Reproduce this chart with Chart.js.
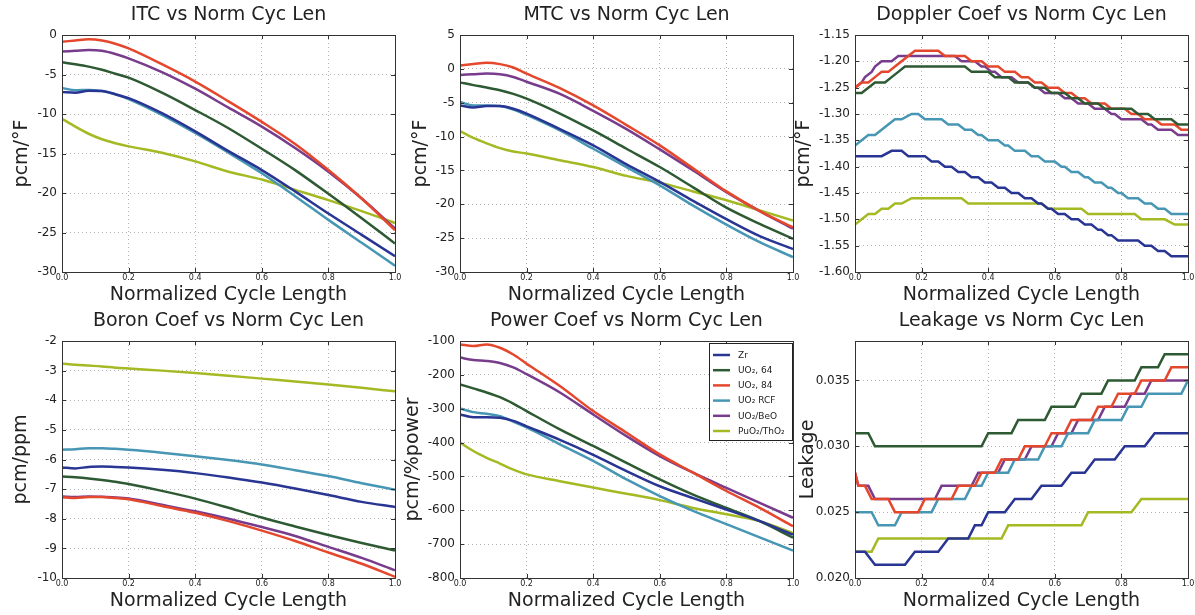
<!DOCTYPE html>
<html>
<head>
<meta charset="utf-8">
<script src="https://cdn.jsdelivr.net/npm/chart.js@4.4.0/dist/chart.umd.min.js"></script>
<style>
  body { margin: 0; background: #fff; width: 1195px; height: 615px; overflow: hidden; position: relative; }
  .panel { position: absolute; }
</style>
</head>
<body>
<div class="panel" style="left:0px;top:1px"><canvas id="itc" width="405" height="311"></canvas></div>
<div class="panel" style="left:398px;top:1px"><canvas id="mtc" width="405" height="311"></canvas></div>
<div class="panel" style="left:793px;top:1px"><canvas id="doppler" width="405" height="311"></canvas></div>
<div class="panel" style="left:0px;top:307px"><canvas id="boron" width="405" height="311"></canvas></div>
<div class="panel" style="left:398px;top:307px"><canvas id="power" width="405" height="311"></canvas></div>
<div class="panel" style="left:793px;top:307px"><canvas id="leakage" width="405" height="311"></canvas></div>
<script>
// series, in legend order
const seriesNames = ['Zr', 'UO₂, 64', 'UO₂, 84', 'UO₂ RCF', 'UO₂/BeO', 'PuO₂/ThO₂'];
const seriesColors = ['#283593', '#2d5a32', '#e5472d', '#4696b4', '#783c8c', '#a5b923'];

// normalized cycle length samples for the smooth curves
const cycleX = [0, 0.04, 0.08, 0.12, 0.16, 0.2, 0.3, 0.4, 0.5, 0.6, 0.7, 0.8, 0.9, 1.0];
const xTicks = [0, 0.2, 0.4, 0.6, 0.8, 1.0];

// ITC, pcm/F  (rows follow seriesNames)
const itcValues = [
  [-7.2, -7.3, -7.05, -7.1, -7.5, -8.0, -9.9, -12.2, -14.7, -17.1, -19.8, -22.6, -25.3, -28.0],
  [-3.45, -3.7, -4.0, -4.4, -4.9, -5.4, -7.3, -9.5, -11.8, -14.4, -17.1, -20.1, -23.2, -26.4],
  [-0.85, -0.7, -0.55, -0.7, -1.1, -1.7, -3.7, -5.9, -8.4, -11.0, -13.8, -17.1, -20.7, -24.7],
  [-6.7, -7.0, -6.95, -7.1, -7.5, -8.1, -10.1, -12.4, -14.9, -17.5, -20.4, -23.4, -26.3, -29.2],
  [-2.1, -2.0, -1.9, -2.0, -2.4, -2.95, -4.7, -6.8, -9.2, -11.6, -14.3, -17.3, -20.7, -24.5],
  [-10.6, -11.6, -12.5, -13.2, -13.7, -14.1, -14.9, -16.0, -17.3, -18.3, -19.6, -20.9, -22.3, -23.8]
];
const itcTicks = [-30, -25, -20, -15, -10, -5, 0];

// MTC, pcm/F
const mtcValues = [
  [-5.4, -5.7, -5.5, -5.5, -5.9, -6.6, -8.9, -11.3, -14.1, -16.7, -19.5, -22.2, -24.7, -26.6],
  [-2.0, -2.4, -2.75, -3.15, -3.7, -4.4, -6.6, -9.1, -11.8, -14.5, -17.5, -20.5, -22.9, -25.1],
  [0.5, 0.7, 0.9, 0.7, 0.2, -0.7, -2.85, -5.4, -8.3, -11.3, -14.7, -18.1, -21.0, -23.4],
  [-4.9, -5.4, -5.4, -5.5, -6.0, -6.8, -9.1, -11.8, -14.5, -17.2, -20.2, -23.0, -25.6, -27.8],
  [-0.9, -0.8, -0.7, -0.8, -1.2, -1.9, -3.7, -6.2, -8.9, -11.9, -15.0, -18.2, -21.0, -23.6],
  [-9.2, -10.2, -11.0, -11.7, -12.2, -12.5, -13.5, -14.5, -15.8, -16.8, -18.1, -19.4, -20.9, -22.4]
];
const mtcTicks = [-30, -25, -20, -15, -10, -5, 0, 5];

// Boron coefficient, pcm/ppm
const boronValues = [
  [-6.27, -6.3, -6.25, -6.24, -6.25, -6.27, -6.35, -6.46, -6.61, -6.78, -6.98, -7.2, -7.43, -7.6],
  [-6.57, -6.6, -6.64, -6.69, -6.75, -6.83, -7.06, -7.32, -7.63, -7.96, -8.26, -8.55, -8.82, -9.07],
  [-7.27, -7.3, -7.27, -7.27, -7.3, -7.34, -7.57, -7.8, -8.08, -8.4, -8.75, -9.14, -9.52, -9.96],
  [-5.67, -5.65, -5.62, -5.62, -5.64, -5.67, -5.77, -5.89, -6.02, -6.17, -6.36, -6.56, -6.8, -7.02],
  [-7.25, -7.27, -7.25, -7.26, -7.28, -7.32, -7.53, -7.75, -8.0, -8.28, -8.58, -8.95, -9.32, -9.74],
  [-2.76, -2.8, -2.83, -2.86, -2.9, -2.93, -3.0, -3.08, -3.17, -3.27, -3.37, -3.47, -3.58, -3.7]
];
const boronTicks = [-10, -9, -8, -7, -6, -5, -4, -3, -2];

// Power coefficient, pcm/%power
const powerValues = [
  [-317, -325, -325, -327, -336, -352, -392, -436, -484, -529, -564, -598, -632, -672],
  [-228, -240, -252, -266, -285, -307, -361, -410, -460, -509, -554, -593, -632, -681],
  [-110, -115, -110, -120, -140, -167, -233, -307, -371, -435, -489, -543, -593, -647],
  [-299, -310, -315, -322, -338, -355, -405, -454, -509, -558, -602, -641, -680, -719],
  [-149, -156, -159, -165, -178, -198, -252, -317, -381, -440, -489, -534, -578, -622],
  [-400, -425, -445, -462, -480, -494, -514, -533, -551, -570, -593, -612, -632, -667]
];
const powerTicks = [-800, -700, -600, -500, -400, -300, -200, -100];

// Doppler coefficient, pcm/F: [cycle length, value] corners of the rounded curves
const dopplerPoints = [
  [[0,-1.38],[0.08,-1.38],[0.11,-1.37],[0.14,-1.37],[0.16,-1.38],[0.21,-1.38],[0.23,-1.39],[0.25,-1.39],[0.27,-1.40],[0.29,-1.40],[0.31,-1.41],[0.33,-1.41],[0.35,-1.42],[0.37,-1.42],[0.39,-1.43],[0.41,-1.43],[0.43,-1.44],[0.45,-1.44],[0.47,-1.45],[0.49,-1.45],[0.51,-1.46],[0.53,-1.46],[0.55,-1.47],[0.56,-1.47],[0.58,-1.48],[0.59,-1.48],[0.61,-1.49],[0.63,-1.49],[0.65,-1.50],[0.67,-1.50],[0.69,-1.51],[0.71,-1.51],[0.73,-1.52],[0.74,-1.52],[0.76,-1.53],[0.77,-1.53],[0.79,-1.54],[0.85,-1.54],[0.87,-1.55],[0.89,-1.55],[0.91,-1.56],[0.93,-1.56],[0.95,-1.57],[1.0,-1.57]],
  [[0,-1.26],[0.02,-1.26],[0.04,-1.25],[0.06,-1.24],[0.09,-1.24],[0.11,-1.23],[0.13,-1.22],[0.15,-1.21],[0.33,-1.21],[0.35,-1.22],[0.40,-1.22],[0.42,-1.23],[0.46,-1.23],[0.48,-1.24],[0.52,-1.24],[0.54,-1.25],[0.57,-1.25],[0.59,-1.26],[0.63,-1.26],[0.65,-1.27],[0.67,-1.27],[0.69,-1.28],[0.73,-1.28],[0.75,-1.29],[0.83,-1.29],[0.85,-1.30],[0.88,-1.30],[0.90,-1.31],[0.95,-1.31],[0.97,-1.32],[1.0,-1.32]],
  [[0,-1.25],[0.02,-1.24],[0.04,-1.24],[0.06,-1.23],[0.08,-1.22],[0.10,-1.22],[0.12,-1.21],[0.14,-1.20],[0.16,-1.19],[0.18,-1.18],[0.25,-1.18],[0.27,-1.19],[0.33,-1.19],[0.35,-1.20],[0.38,-1.20],[0.40,-1.21],[0.43,-1.21],[0.45,-1.22],[0.48,-1.22],[0.50,-1.23],[0.52,-1.23],[0.54,-1.24],[0.56,-1.24],[0.58,-1.25],[0.61,-1.25],[0.63,-1.26],[0.65,-1.26],[0.67,-1.27],[0.69,-1.27],[0.71,-1.28],[0.75,-1.28],[0.77,-1.29],[0.81,-1.29],[0.83,-1.30],[0.85,-1.30],[0.87,-1.31],[0.90,-1.31],[0.92,-1.32],[0.96,-1.32],[0.98,-1.33],[1.0,-1.33]],
  [[0,-1.36],[0.02,-1.35],[0.04,-1.34],[0.06,-1.34],[0.08,-1.33],[0.10,-1.32],[0.12,-1.31],[0.14,-1.31],[0.17,-1.30],[0.19,-1.30],[0.21,-1.31],[0.26,-1.31],[0.28,-1.32],[0.31,-1.32],[0.33,-1.33],[0.35,-1.33],[0.37,-1.34],[0.38,-1.34],[0.40,-1.35],[0.43,-1.35],[0.45,-1.36],[0.46,-1.36],[0.48,-1.37],[0.51,-1.37],[0.53,-1.38],[0.55,-1.38],[0.57,-1.39],[0.60,-1.39],[0.62,-1.40],[0.63,-1.40],[0.65,-1.41],[0.67,-1.41],[0.69,-1.42],[0.70,-1.42],[0.72,-1.43],[0.74,-1.43],[0.76,-1.44],[0.77,-1.44],[0.79,-1.45],[0.80,-1.45],[0.82,-1.46],[0.85,-1.46],[0.87,-1.47],[0.89,-1.47],[0.91,-1.48],[0.93,-1.48],[0.95,-1.49],[1.0,-1.49]],
  [[0,-1.25],[0.02,-1.24],[0.03,-1.23],[0.05,-1.22],[0.06,-1.21],[0.08,-1.20],[0.11,-1.20],[0.13,-1.19],[0.30,-1.19],[0.32,-1.20],[0.36,-1.20],[0.38,-1.21],[0.39,-1.21],[0.41,-1.22],[0.42,-1.22],[0.44,-1.23],[0.47,-1.23],[0.49,-1.24],[0.52,-1.24],[0.54,-1.25],[0.55,-1.25],[0.57,-1.26],[0.61,-1.26],[0.63,-1.27],[0.65,-1.27],[0.67,-1.28],[0.70,-1.28],[0.72,-1.29],[0.75,-1.29],[0.77,-1.30],[0.78,-1.30],[0.80,-1.31],[0.86,-1.31],[0.88,-1.32],[0.89,-1.32],[0.91,-1.33],[0.95,-1.33],[0.97,-1.34],[1.0,-1.34]],
  [[0,-1.51],[0.02,-1.50],[0.04,-1.49],[0.06,-1.49],[0.08,-1.48],[0.10,-1.48],[0.12,-1.47],[0.14,-1.47],[0.17,-1.46],[0.32,-1.46],[0.34,-1.47],[0.56,-1.47],[0.58,-1.48],[0.68,-1.48],[0.70,-1.49],[0.84,-1.49],[0.86,-1.50],[0.93,-1.50],[0.96,-1.51],[1.0,-1.51]]
];
const dopplerTicks = [-1.60, -1.55, -1.50, -1.45, -1.40, -1.35, -1.30, -1.25, -1.20, -1.15];

// Leakage: [cycle length, value] corners
const leakagePoints = [
  [[0,0.022],[0.03,0.022],[0.06,0.021],[0.15,0.021],[0.18,0.022],[0.25,0.022],[0.28,0.023],[0.34,0.023],[0.36,0.024],[0.38,0.024],[0.40,0.025],[0.45,0.025],[0.48,0.026],[0.53,0.026],[0.56,0.027],[0.62,0.027],[0.65,0.028],[0.69,0.028],[0.72,0.029],[0.78,0.029],[0.81,0.030],[0.87,0.030],[0.90,0.031],[1.0,0.031]],
  [[0,0.031],[0.04,0.031],[0.06,0.030],[0.38,0.030],[0.40,0.031],[0.47,0.031],[0.49,0.032],[0.57,0.032],[0.59,0.033],[0.66,0.033],[0.68,0.034],[0.74,0.034],[0.76,0.035],[0.84,0.035],[0.86,0.036],[0.91,0.036],[0.93,0.037],[1.0,0.037]],
  [[0,0.028],[0.01,0.027],[0.03,0.027],[0.05,0.026],[0.10,0.026],[0.12,0.025],[0.19,0.025],[0.21,0.026],[0.29,0.026],[0.31,0.027],[0.36,0.027],[0.38,0.028],[0.42,0.028],[0.44,0.029],[0.49,0.029],[0.51,0.030],[0.57,0.030],[0.59,0.031],[0.63,0.031],[0.65,0.032],[0.71,0.032],[0.73,0.033],[0.77,0.033],[0.79,0.034],[0.84,0.034],[0.86,0.035],[0.93,0.035],[0.95,0.036],[1.0,0.036]],
  [[0,0.025],[0.05,0.025],[0.07,0.024],[0.12,0.024],[0.14,0.025],[0.23,0.025],[0.25,0.026],[0.33,0.026],[0.35,0.027],[0.38,0.027],[0.40,0.028],[0.46,0.028],[0.48,0.029],[0.55,0.029],[0.57,0.030],[0.62,0.030],[0.64,0.031],[0.70,0.031],[0.72,0.032],[0.80,0.032],[0.82,0.033],[0.86,0.033],[0.88,0.034],[0.98,0.034],[1.0,0.035]],
  [[0,0.028],[0.01,0.027],[0.04,0.027],[0.06,0.026],[0.24,0.026],[0.26,0.027],[0.35,0.027],[0.37,0.028],[0.43,0.028],[0.45,0.029],[0.51,0.029],[0.53,0.030],[0.59,0.030],[0.61,0.031],[0.65,0.031],[0.67,0.032],[0.73,0.032],[0.75,0.033],[0.81,0.033],[0.83,0.034],[0.87,0.034],[0.89,0.035],[1.0,0.035]],
  [[0,0.022],[0.05,0.022],[0.07,0.023],[0.44,0.023],[0.46,0.024],[0.68,0.024],[0.70,0.025],[0.83,0.025],[0.86,0.026],[1.0,0.026]]
];
const leakageTicks = [0.020, 0.025, 0.030, 0.035];

const FONT = 'DejaVu Sans';
const TEXT = '#222';

// axes frame + inward tick marks, like the matplotlib look
const framePlugin = {
  id: 'frame',
  afterDatasetsDraw(chart) {
    const { ctx, chartArea: a, scales } = chart;
    ctx.save();
    ctx.strokeStyle = '#333';
    ctx.lineWidth = 1;
    ctx.beginPath();
    scales.y.ticks.forEach(t => {
      const y = Math.round(scales.y.getPixelForValue(t.value)) + 0.5;
      ctx.moveTo(a.left, y); ctx.lineTo(a.left + 4, y);
      ctx.moveTo(a.right, y); ctx.lineTo(a.right - 4, y);
    });
    scales.x.ticks.forEach(t => {
      const x = Math.round(scales.x.getPixelForValue(t.value)) + 0.5;
      ctx.moveTo(x, a.bottom); ctx.lineTo(x, a.bottom - 4);
      ctx.moveTo(x, a.top); ctx.lineTo(x, a.top + 4);
    });
    ctx.stroke();
    ctx.strokeRect(Math.round(a.left) + 0.5, Math.round(a.top) + 0.5,
      Math.round(a.right - a.left), Math.round(a.bottom - a.top));
    ctx.restore();
  }
};

// boxed legend in the upper right corner of the plot
const boxLegend = {
  id: 'boxLegend',
  afterDraw(chart) {
    const { ctx, chartArea: a } = chart;
    const w = 83, h = 97, rowH = 15.2;
    const x0 = Math.round(a.right - w - 1), y0 = Math.round(a.top + 2);
    ctx.save();
    ctx.fillStyle = '#fff';
    ctx.fillRect(x0, y0, w, h);
    ctx.strokeStyle = '#222';
    ctx.lineWidth = 1;
    ctx.strokeRect(x0 + 0.5, y0 + 0.5, w, h);
    ctx.font = '9px "' + FONT + '"';
    ctx.textBaseline = 'middle';
    chart.data.datasets.forEach((ds, i) => {
      const y = y0 + 12 + i * rowH;
      ctx.strokeStyle = ds.borderColor;
      ctx.lineWidth = 2.5;
      ctx.beginPath();
      ctx.moveTo(x0 + 4, y);
      ctx.lineTo(x0 + 21, y);
      ctx.stroke();
      ctx.fillStyle = TEXT;
      ctx.fillText(ds.label, x0 + 29, y + 0.5);
    });
    ctx.restore();
  }
};

function smoothSets(values) {
  return values.map((row, i) => ({
    label: seriesNames[i],
    data: row.map((v, j) => ({ x: cycleX[j], y: v })),
    borderColor: seriesColors[i],
    borderWidth: 2.5,
    pointRadius: 0,
    cubicInterpolationMode: 'monotone',
    fill: false
  }));
}

function stepSets(points) {
  return points.map((row, i) => ({
    label: seriesNames[i],
    data: row.map(p => ({ x: p[0], y: p[1] })),
    borderColor: seriesColors[i],
    borderWidth: 2.5,
    pointRadius: 0,
    tension: 0,
    fill: false
  }));
}

function fmtTick(v, d) {
  return Number(v).toFixed(d);
}

// labelPad: gap between canvas left edge and the rotated y axis title
function drawPanel(id, title, yTitle, yMin, yMax, yTicks, decimals, datasets, labelPad, extra) {
  new Chart(document.getElementById(id), {
    type: 'line',
    data: { datasets: datasets },
    options: {
      responsive: false,
      animation: false,
      events: [],
      layout: { padding: { left: 0, top: 0, right: 10, bottom: 0 } },
      plugins: {
        legend: { display: false },
        tooltip: { enabled: false },
        title: {
          display: true, text: title, fullSize: false, color: TEXT,
          font: { family: FONT, size: 19, weight: 'normal' },
          padding: { top: 3, bottom: 8.2 }
        }
      },
      scales: {
        x: {
          type: 'linear', min: 0, max: 1,
          afterBuildTicks: s => { s.ticks = xTicks.map(v => ({ value: v })); },
          afterFit: s => { s.height = 40; },
          grid: { color: '#b5b5b5', lineWidth: 1, drawTicks: false },
          border: { display: false, dash: [1, 3] },
          ticks: {
            color: TEXT, font: { family: FONT, size: 8 }, padding: 1,
            maxRotation: 0, autoSkip: false,
            callback: v => fmtTick(v, 1)
          },
          title: {
            display: true, text: 'Normalized Cycle Length', color: TEXT,
            font: { family: FONT, size: 19 }, padding: { top: 0, bottom: 6 }
          }
        },
        y: {
          type: 'linear', min: yMin, max: yMax, bounds: 'data',
          afterBuildTicks: s => { s.ticks = yTicks.map(v => ({ value: v })); },
          afterFit: s => { s.width = 62; },
          grid: { color: '#b5b5b5', lineWidth: 1, drawTicks: false },
          border: { display: false, dash: [1, 3] },
          ticks: {
            color: TEXT, font: { family: FONT, size: 12 }, padding: 5,
            autoSkip: false,
            callback: v => fmtTick(v, decimals)
          },
          title: {
            display: true, text: yTitle, color: TEXT,
            font: { family: FONT, size: 19 }, padding: { top: labelPad, bottom: 0 }
          }
        }
      }
    },
    plugins: [framePlugin].concat(extra || [])
  });
}

drawPanel('itc', 'ITC vs Norm Cyc Len', 'pcm/°F', -30, 0, itcTicks, 0, smoothSets(itcValues), 11);
drawPanel('mtc', 'MTC vs Norm Cyc Len', 'pcm/°F', -30, 5, mtcTicks, 0, smoothSets(mtcValues), 12);
drawPanel('doppler', 'Doppler Coef vs Norm Cyc Len', 'pcm/°F', -1.6, -1.15, dopplerTicks, 2, stepSets(dopplerPoints), 0);
drawPanel('boron', 'Boron Coef vs Norm Cyc Len', 'pcm/ppm', -10, -2, boronTicks, 0, smoothSets(boronValues), 10);
drawPanel('power', 'Power Coef vs Norm Cyc Len', 'pcm/%power', -800, -100, powerTicks, 0, smoothSets(powerValues), 4, [boxLegend]);
drawPanel('leakage', 'Leakage vs Norm Cyc Len', 'Leakage', 0.020, 0.038, leakageTicks, 3, stepSets(leakagePoints), 4);
</script>
</body>
</html>
